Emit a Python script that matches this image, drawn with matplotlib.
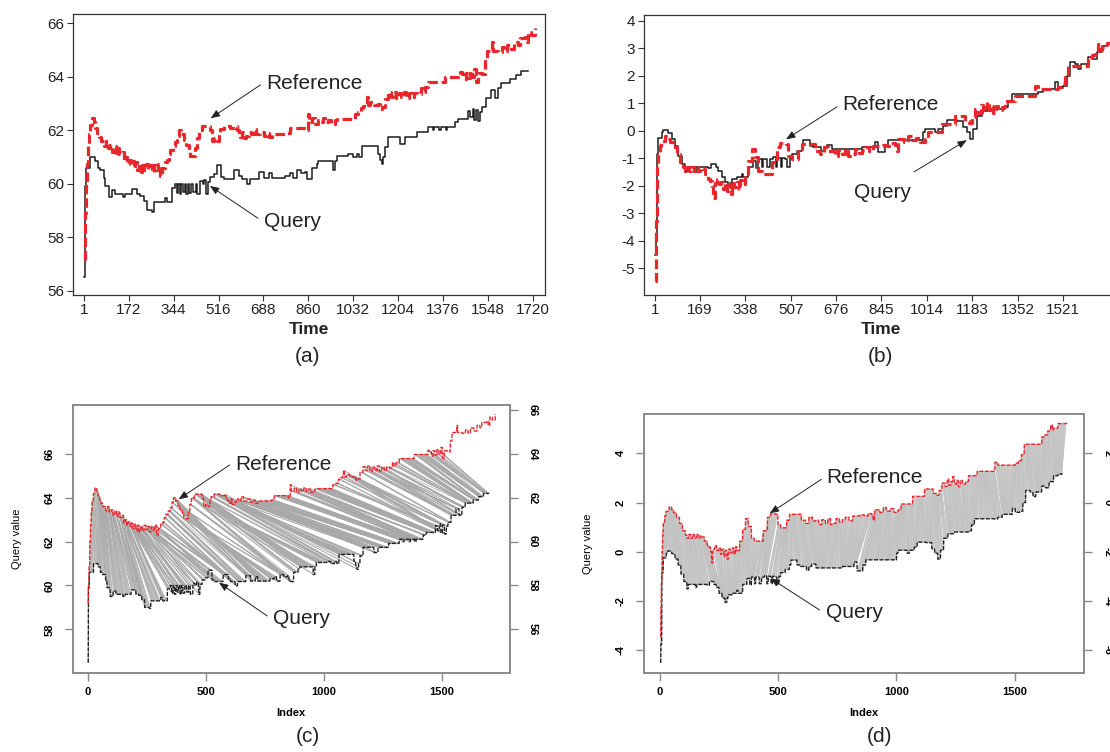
import numpy as np
import matplotlib
matplotlib.use('Agg')
import matplotlib.pyplot as plt
from matplotlib.collections import LineCollection

plt.rcParams['font.family'] = ['Liberation Sans', 'DejaVu Sans']
plt.rcParams['axes.unicode_minus'] = False

# ---- series: breakpoints of step curves (time, value)
qa_t = [1, 4, 8, 26, 45, 55, 64, 77, 83, 96, 109, 120, 150, 160, 185, 205, 217, 230, 242, 262, 268,
        300, 310, 318, 332, 338, 350, 356, 362, 368, 374, 380, 386, 392, 398, 404, 412, 420, 428, 435,
        446, 455, 462, 470, 476, 485, 498, 510, 527, 536, 574, 596, 605, 625, 635, 670, 690, 710, 720,
        772, 790, 800, 815, 830, 847, 853, 872, 891, 898, 950, 955, 962, 968, 1013, 1030, 1045, 1055,
        1064, 1115, 1127, 1135, 1140, 1147, 1153, 1166, 1204, 1212, 1222, 1229, 1268, 1274, 1306, 1319,
        1335, 1340, 1360, 1366, 1385, 1390, 1408, 1420, 1433, 1459, 1472, 1480, 1488, 1495, 1502, 1510,
        1518, 1525, 1538, 1559, 1572, 1584, 1598, 1632, 1654, 1675, 1699]
qa_v = [56.5, 59.9, 60.6, 61.0, 60.85, 60.6, 60.5, 60.2, 59.9, 59.5, 59.75, 59.6, 59.5, 59.6, 59.8,
        59.6, 59.55, 59.35, 59.0, 58.95, 59.3, 59.3, 59.45, 59.3, 59.3, 59.85, 60.0, 59.65, 60.0, 59.6,
        60.0, 59.7, 60.0, 59.6, 60.0, 59.65, 60.0, 59.7, 60.0, 59.6, 60.1, 60.0, 60.15, 59.6, 60.05,
        60.25, 60.35, 60.7, 60.25, 60.18, 60.5, 60.3, 60.18, 59.99, 60.18, 60.45, 60.2, 60.4, 60.2,
        60.3, 60.4, 60.2, 60.5, 60.4, 60.45, 60.18, 60.6, 60.75, 60.85, 60.85, 60.5, 60.85, 61.05,
        61.1, 61.0, 61.1, 61.0, 61.42, 61.42, 61.1, 60.9, 60.74, 61.0, 61.36, 61.74, 61.74, 61.5, 61.5,
        61.74, 61.74, 61.92, 61.92, 62.11, 62.0, 62.11, 62.0, 62.11, 62.0, 62.11, 62.11, 62.3, 62.42,
        62.42, 62.73, 62.5, 62.8, 62.4, 62.75, 62.35, 62.7, 62.88, 63.2, 63.5, 63.2, 63.57, 63.76,
        63.9, 64.05, 64.2, 64.2]

ra_t = [1, 4, 7, 10, 13, 16, 19, 25, 32, 40, 45, 52, 57, 65, 77, 85, 92, 100, 108, 116, 124, 130,
        137, 145, 153, 160, 166, 172, 180, 186, 191, 198, 205, 212, 218, 225, 232, 240, 247, 254, 262,
        270, 278, 285, 292, 300, 310, 319, 325, 332, 342, 351, 358, 364, 372, 383, 392, 402, 408, 420,
        427, 433, 440, 453, 478, 485, 492, 500, 510, 518, 523, 536, 560, 580, 586, 593, 600, 607, 612,
        622, 631, 640, 650, 660, 675, 689, 700, 710, 721, 746, 778, 790, 840, 850, 858, 862, 875, 885,
        895, 905, 915, 925, 935, 945, 962, 968, 1025, 1038, 1051, 1062, 1070, 1080, 1083, 1088, 1096,
        1110, 1127, 1135, 1140, 1153, 1166, 1175, 1185, 1195, 1205, 1215, 1225, 1235, 1245, 1255, 1265,
        1280, 1290, 1297, 1306, 1319, 1370, 1382, 1433, 1440, 1446, 1455, 1462, 1470, 1478, 1486, 1495,
        1502, 1510, 1523, 1535, 1542, 1555, 1562, 1566, 1586, 1599, 1610, 1620, 1635, 1648, 1660, 1668,
        1688, 1695, 1702, 1712, 1725]
ra_v = [57.2, 58.0, 58.9, 60.0, 60.75, 61.4, 61.85, 62.2, 62.45, 62.3, 62.1, 61.9, 61.75, 61.6, 61.42,
        61.6, 61.35, 61.45, 61.2, 61.4, 61.15, 61.35, 61.1, 61.2, 60.86, 61.0, 60.75, 60.9, 60.7, 60.85,
        60.6, 60.8, 60.5, 60.75, 60.45, 60.7, 60.5, 60.75, 60.55, 60.7, 60.45, 60.7, 60.5, 60.75, 60.3,
        60.6, 60.8, 60.9, 61.1, 61.25, 61.4, 61.55, 61.8, 62.0, 61.85, 61.65, 61.45, 61.25, 61.05, 61.05,
        61.35, 61.7, 62.0, 62.17, 62.17, 62.0, 61.6, 61.7, 61.6, 61.9, 62.05, 62.17, 62.1, 62.15, 62.0,
        61.86, 61.75, 61.95, 61.7, 61.8, 61.95, 61.85, 62.05, 61.85, 61.95, 61.8, 61.9, 61.75, 61.85,
        61.86, 61.9, 62.1, 62.1, 62.0, 62.6, 62.3, 62.45, 62.25, 62.4, 62.3, 62.45, 62.3, 62.4, 62.25,
        62.4, 62.42, 62.42, 62.6, 62.67, 62.85, 62.92, 63.0, 63.25, 62.95, 63.05, 62.95, 62.98, 62.8,
        62.86, 63.17, 63.42, 63.25, 63.45, 63.2, 63.4, 63.25, 63.45, 63.2, 63.4, 63.25, 63.4, 63.36,
        63.6, 63.45, 63.61, 63.79, 63.79, 63.98, 63.98, 64.17, 64.1, 63.9, 64.15, 63.95, 64.2, 64.0,
        64.3, 63.8, 64.15, 64.1, 64.6, 64.98, 64.98, 65.3, 64.98, 64.94, 65.1, 64.95, 65.19, 65.05,
        65.31, 65.2, 65.44, 65.5, 65.3, 65.69, 65.55, 65.81]

# ---- series
qb_t = [1, 4, 8, 14, 27, 33, 45, 50, 64, 77, 89, 101, 114, 120, 150, 156, 182, 200, 210, 219, 228,
        238, 250, 263, 275, 283, 288, 306, 325, 331, 350, 368, 380, 387, 400, 405, 420, 430, 443, 452,
        458, 470, 476, 486, 495, 503, 511, 530, 548, 554, 573, 580, 592, 610, 620, 630, 642, 660, 734,
        772, 821, 834, 852, 858, 871, 995, 1001, 1007, 1038, 1045, 1055, 1076, 1088, 1107, 1125, 1138,
        1150, 1162, 1175, 1187, 1200, 1218, 1243, 1305, 1318, 1330, 1417, 1429, 1448, 1479, 1491, 1503,
        1522, 1535, 1547, 1566, 1578, 1590, 1615, 1630, 1646, 1665, 1684, 1700]
qb_v = [-4.5, -3.75, -0.85, -0.25, -0.06, 0.03, 0.03, -0.08, -0.3, -0.54, -0.91, -1.21, -1.51, -1.33,
        -1.45, -1.33, -1.33, -1.36, -1.2, -1.21, -1.33, -1.45, -1.69, -1.88, -2.06, -1.9, -1.75, -1.69,
        -1.57, -1.69, -1.33, -1.09, -1.35, -1.03, -1.3, -1.03, -1.3, -1.03, -0.97, -1.3, -1.0, -1.3,
        -1.0, -1.03, -1.33, -1.0, -0.85, -0.72, -0.54, -0.34, -0.34, -0.54, -0.6, -0.6, -0.75, -0.6,
        -0.5, -0.66, -0.66, -0.6, -0.42, -0.78, -0.78, -0.54, -0.33, -0.33, -0.06, 0.06, 0.06, -0.06,
        0.06, 0.19, 0.39, 0.39, 0.37, 0.37, 0.12, -0.06, -0.3, 0.06, 0.55, 0.73, 0.8, 0.85, 1.09, 1.34,
        1.33, 1.4, 1.52, 1.52, 1.76, 1.6, 1.64, 2.0, 2.49, 2.43, 2.24, 2.43, 2.67, 2.6, 2.85, 3.09,
        3.15, 3.2]

rb_t = [1, 4, 6, 9, 11, 14, 20, 25, 39, 50, 58, 70, 83, 95, 108, 115, 122, 130, 138, 146, 154, 162,
        170, 176, 188, 200, 207, 214, 219, 224, 232, 240, 248, 256, 262, 270, 276, 284, 290, 298, 306,
        314, 320, 325, 337, 350, 362, 374, 387, 399, 424, 437, 455, 468, 490, 499, 511, 530, 536, 548,
        586, 598, 616, 630, 645, 660, 672, 685, 700, 710, 722, 734, 745, 760, 772, 784, 800, 815, 834,
        850, 865, 880, 896, 902, 908, 930, 945, 958, 975, 990, 1007, 1020, 1057, 1069, 1107, 1119,
        1144, 1156, 1170, 1181, 1193, 1206, 1215, 1222, 1230, 1238, 1245, 1255, 1262, 1270, 1280, 1293,
        1305, 1330, 1342, 1405, 1417, 1429, 1491, 1503, 1516, 1529, 1541, 1603, 1615, 1628, 1640, 1653,
        1660, 1665, 1684, 1720]
rb_v = [-5.45, -4.3, -3.27, -2.0, -1.33, -0.85, -0.55, -0.36, -0.18, -0.3, -0.42, -0.6, -0.85, -1.15,
        -1.33, -1.45, -1.3, -1.45, -1.3, -1.45, -1.3, -1.45, -1.35, -1.4, -1.57, -1.75, -1.81, -2.0,
        -2.45, -1.9, -1.75, -1.95, -1.85, -2.1, -1.9, -2.2, -1.95, -2.3, -1.9, -2.05, -1.85, -2.1, -1.8,
        -1.95, -1.57, -1.09, -0.66, -0.97, -1.45, -1.57, -1.57, -1.15, -0.6, -0.46, -0.48, -0.91, -1.03,
        -1.03, -0.72, -0.48, -0.48, -0.72, -0.85, -0.6, -0.75, -0.72, -0.9, -0.7, -0.85, -0.66, -0.9,
        -0.85, -0.65, -0.8, -0.7, -0.6, -0.75, -0.55, -0.54, -0.5, -0.55, -0.45, -0.5, -0.72, -0.3,
        -0.4, -0.2, -0.35, -0.25, -0.4, -0.3, -0.06, -0.06, 0.25, 0.25, 0.55, 0.55, 0.37, 0.3, 0.49,
        0.79, 0.65, 0.95, 0.7, 0.85, 1.05, 0.75, 0.9, 0.65, 0.9, 0.75, 0.85, 1.09, 1.09, 1.27, 1.27,
        1.64, 1.52, 1.52, 1.6, 1.7, 1.94, 2.37, 2.37, 2.67, 2.75, 2.91, 3.15, 2.95, 3.03, 3.21, 3.25]

ticks_a = [1, 172, 344, 516, 688, 860, 1032, 1204, 1376, 1548, 1720]
ticks_b = [1, 169, 338, 507, 676, 845, 1014, 1183, 1352, 1521]

RED = '#e8262b'
BLACK = '#1c1c1c'
W, H = 1110, 752


def box(left, top, right, bottom):
    # pixel box -> figure fraction rect
    return [left / W, 1 - bottom / H, (right - left) / W, (bottom - top) / H]


def expand(t, v):
    # full-resolution series from the step breakpoints
    t = np.asarray(t)
    v = np.asarray(v, dtype=float)
    idx = np.arange(1, t[-1] + 1)
    return v[np.searchsorted(t, idx, side='right') - 1]


def dtw_path(x, y):
    # DTW, Sakoe-Chiba P=1 slope constraint, open end
    n, m = len(x), len(y)
    cost = np.abs(x[:, None] - y[None, :])
    acc = np.full((n, m), np.inf)
    step = np.zeros((n, m), dtype=np.int8)
    acc[0, 0] = cost[0, 0]
    for i in range(1, n):
        cand = np.full((3, m), np.inf)
        cand[0, 2:] = acc[i - 1, :-2] + 2 * cost[i, 1:-1] + cost[i, 2:]
        cand[1, 1:] = acc[i - 1, :-1] + 2 * cost[i, 1:]
        if i > 1:
            cand[2, 1:] = acc[i - 2, :-1] + 2 * cost[i - 1, 1:] + cost[i, 1:]
        step[i] = np.argmin(cand, axis=0)
        acc[i] = cand.min(axis=0)
    j = int(np.argmin(acc[-1] / (n + np.arange(1, m + 1))))
    i = n - 1
    path = [(i, j)]
    while i > 0:
        s = step[i, j]
        if s == 0:
            path.append((i, j - 1))
            i, j = i - 1, j - 2
        elif s == 1:
            i, j = i - 1, j - 1
        else:
            path.append((i - 1, j))
            i, j = i - 2, j - 1
        path.append((i, j))
    return path[::-1]


def top_panel(ax, qt, qv, rt, rv, xticks, xlim, ylim, yticks):
    ax.step(qt, qv, where='post', color=BLACK, lw=1.1, zorder=2)
    ax.step(rt, rv, where='post', color=RED, lw=2.3, dashes=(3, 1.2), zorder=3)
    ax.set_xlim(*xlim)
    ax.set_ylim(*ylim)
    ax.set_xticks(xticks)
    ax.set_yticks(yticks)
    ax.tick_params(direction='out', length=4, width=0.8, color='#333333', labelsize=11,
                   labelcolor='#222222', pad=2)
    for s in ax.spines.values():
        s.set_color('#333333')
        s.set_linewidth(0.9)


def bottom_panel(ax, q, r, offset, xlim, ylim, yticks, every, gray):
    path = dtw_path(q, r)
    segs = [[(i + 1, q[i]), (j + 1, r[j] + offset)] for i, j in path[::every]]
    ax.add_collection(LineCollection(segs, colors=gray, linewidths=0.5, zorder=1))
    ax.plot(np.arange(1, len(q) + 1), q, color='#222222', lw=1.0, ls=(0, (3, 1)), zorder=3)
    ax.plot(np.arange(1, len(r) + 1), r + offset, color=RED, lw=1.0, ls=(0, (3, 1)), zorder=3)
    ax.set_xlim(*xlim)
    ax.set_ylim(*ylim)
    ax.set_xticks([0, 500, 1000, 1500])
    ax.set_yticks(yticks)
    ax.set_xlabel('Index', fontsize=8, fontweight='bold', labelpad=8)
    ax.set_ylabel('Query value', fontsize=8, labelpad=16)
    tw = ax.twinx()
    tw.set_ylim(ylim[0] - offset, ylim[1] - offset)
    tw.set_yticks([v - offset for v in yticks] + ([yticks[-1] + 2 - offset] if yticks[-1] + 2 < ylim[1] else []))
    for a in (ax, tw):
        a.tick_params(direction='out', length=6, width=1.0, color='#8a8a8a', labelsize=8, pad=7)
        for lab in a.get_xticklabels() + a.get_yticklabels():
            lab.set_fontweight('bold')
        for s in a.spines.values():
            s.set_color('#8a8a8a')
            s.set_linewidth(1.2)
    ax.tick_params(axis='x', pad=4)
    for lab in ax.get_yticklabels():
        lab.set_rotation(90)
        lab.set_va('center')
    for lab in tw.get_yticklabels():
        lab.set_rotation(270)
        lab.set_va('center')


def arrow_label(ax, text, tail, head, tx, ty):
    ax.annotate('', xy=head, xytext=tail,
                arrowprops=dict(arrowstyle='-|>,head_length=0.55,head_width=0.22', color='#222222',
                                lw=0.7, shrinkA=0, shrinkB=0), zorder=5)
    ax.text(tx, ty, text, fontsize=15, color='#222222', ha='left', va='center', zorder=5)


fig = plt.figure(figsize=(W / 100, H / 100), dpi=100)

# (a)
ax_a = fig.add_axes(box(72.5, 14, 545.4, 294.7))
top_panel(ax_a, qa_t, qa_v, ra_t, ra_v, ticks_a, (-42.6, 1766.7), (55.85, 66.35), range(56, 67, 2))
arrow_label(ax_a, 'Reference', (677, 63.70), (486, 62.45), 697, 63.76)
arrow_label(ax_a, 'Query', (667, 58.71), (483, 59.92), 691, 58.58)
fig.text(309 / W, 1 - 329 / H, 'Time', fontsize=12.5, fontweight='bold', ha='center', va='center',
         color='#222222')
fig.text(308 / W, 1 - 357 / H, '(a)', fontsize=15, ha='center', va='center', color='#222222')

# (b)
ax_b = fig.add_axes(box(643.5, 15.3, 1129, 294.7))
top_panel(ax_b, qb_t, qb_v, rb_t, rb_v, ticks_b, (-40.7, 1767), (-5.96, 4.2), range(-5, 5))
arrow_label(ax_b, 'Reference', (680, 0.874), (490, -0.31), 700, 0.97)
arrow_label(ax_b, 'Query', (967, -1.49), (1163, -0.34), 743, -2.25)
fig.text(881 / W, 1 - 329 / H, 'Time', fontsize=12.5, fontweight='bold', ha='center', va='center',
         color='#222222')
fig.text(880 / W, 1 - 357 / H, '(b)', fontsize=15, ha='center', va='center', color='#222222')

# (c)
ax_c = fig.add_axes(box(72.5, 404.7, 510, 672.7))
bottom_panel(ax_c, expand(qa_t, qa_v), expand(ra_t, ra_v), 2, (-63.5, 1787), (56.02, 68.25),
             [58, 60, 62, 64, 66], 3, '#a9a9a9')
arrow_label(ax_c, 'Reference', (601, 65.5), (385, 63.93), 624, 65.54)
arrow_label(ax_c, 'Query', (760, 58.61), (556, 60.13), 786, 58.48)
fig.text(308 / W, 1 - 737 / H, '(c)', fontsize=15, ha='center', va='center', color='#222222')

# (d)
ax_d = fig.add_axes(box(643.5, 414, 1084.4, 672.7))
bottom_panel(ax_d, expand(qb_t, qb_v), expand(rb_t, rb_v), 2, (-69.8, 1795), (-4.92, 5.6),
             [-4, -2, 0, 2, 4], 2, '#c2c2c2')
arrow_label(ax_d, 'Reference', (682, 2.94), (464, 1.56), 705, 3.03)
arrow_label(ax_d, 'Query', (675, -2.37), (467, -1.08), 702, -2.48)
fig.text(880 / W, 1 - 737 / H, '(d)', fontsize=15, ha='center', va='center', color='#222222')

fig.savefig('out.png', dpi=100)
